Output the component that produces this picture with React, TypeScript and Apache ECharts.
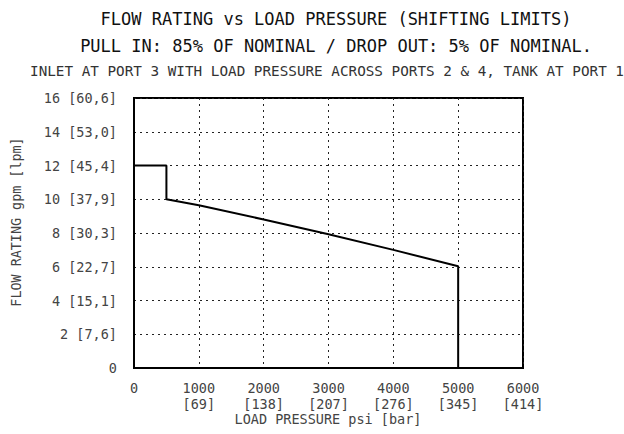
import React, { useEffect, useRef } from "react";
import * as echarts from "echarts";

const titleLines = [
  "FLOW RATING vs LOAD PRESSURE (SHIFTING LIMITS)",
  "PULL IN: 85% OF NOMINAL / DROP OUT: 5% OF NOMINAL.",
  "INLET AT PORT 3 WITH LOAD PRESSURE ACROSS PORTS 2 & 4, TANK AT PORT 1",
];
const xAxisName = "LOAD PRESSURE psi [bar]";
const yAxisName = "FLOW RATING gpm [lpm]";

const xTicks = [0, 1000, 2000, 3000, 4000, 5000, 6000];
const xTickLabels = ["0", "1000\n[69]", "2000\n[138]", "3000\n[207]", "4000\n[276]", "5000\n[345]", "6000\n[414]"];
const yTicks = [0, 2, 4, 6, 8, 10, 12, 14, 16];
const yTickLabels = ["0", "2 [7,6]", "4 [15,1]", "6 [22,7]", "8 [30,3]", "10 [37,9]", "12 [45,4]", "14 [53,0]", "16 [60,6]"];

const pressurePsi = [0, 500, 500, 1000, 2000, 3000, 4000, 5000, 5000];
const flowGpm = [12, 12, 10, 9.65, 8.8, 7.93, 7.0, 6.03, 0];

const FONT = "'DejaVu Sans Mono', 'Liberation Mono', monospace";

export default function App() {
  const ref = useRef<HTMLDivElement>(null);
  useEffect(() => {
    document.body.style.margin = "0";
    const chart = echarts.init(ref.current!, null, { renderer: "svg" });
    const data = pressurePsi.map((x, i) => [x, flowGpm[i]]);
    chart.setOption({
      animation: false,
      backgroundColor: "#fff",
      grid: {
        left: 134,
        right: 101,
        top: 98,
        bottom: 66,
        show: true,
        borderColor: "#000",
        borderWidth: 2,
        backgroundColor: "transparent",
      },
      xAxis: {
        type: "value",
        min: 0,
        max: 6000,
        interval: 1000,
        axisLine: { show: true, lineStyle: { color: "#000", width: 2 } },
        axisTick: { show: false },
        splitLine: { show: true, lineStyle: { color: "#222", width: 1, type: [2, 4] } },
        axisLabel: {
          margin: 12,
          color: "#444",
          fontFamily: FONT,
          fontSize: 13.5,
          lineHeight: 16,
          formatter: (v: number) => xTickLabels[xTicks.indexOf(v)] ?? "",
        },
      },
      yAxis: {
        type: "value",
        min: 0,
        max: 16,
        interval: 2,
        axisLine: { show: true, lineStyle: { color: "#000", width: 2 } },
        axisTick: { show: false },
        splitLine: { show: true, lineStyle: { color: "#222", width: 1, type: [2, 4] } },
        axisLabel: {
          margin: 17,
          color: "#444",
          fontFamily: FONT,
          fontSize: 13.5,
          padding: [3, 0, 0, 0],
          formatter: (v: number) => yTickLabels[yTicks.indexOf(v)] ?? "",
        },
      },
      series: [
        {
          type: "line",
          data,
          showSymbol: false,
          symbol: "none",
          lineStyle: { color: "#000", width: 2 },
          z: 5,
        },
      ],
      graphic: [
        {
          type: "text",
          x: 336,
          y: 19,
          style: { text: titleLines[0], font: `17px ${FONT}`, fill: "#111", textAlign: "center", textVerticalAlign: "middle" },
        },
        {
          type: "text",
          x: 336,
          y: 46,
          style: { text: titleLines[1], font: `17px ${FONT}`, fill: "#111", textAlign: "center", textVerticalAlign: "middle" },
        },
        {
          type: "text",
          x: 327,
          y: 71,
          style: { text: titleLines[2], font: `14.3px ${FONT}`, fill: "#333", textAlign: "center", textVerticalAlign: "middle" },
        },
        {
          type: "text",
          x: 328,
          y: 419,
          style: { text: xAxisName, font: `13.5px ${FONT}`, fill: "#444", textAlign: "center", textVerticalAlign: "middle" },
        },
        {
          type: "text",
          x: 16,
          y: 222,
          rotation: Math.PI / 2,
          style: { text: yAxisName, font: `13.4px ${FONT}`, fill: "#444", textAlign: "center", textVerticalAlign: "middle" },
        },
      ],
    });
    return () => chart.dispose();
  }, []);
  return <div ref={ref} style={{ width: 624, height: 434 }} />;
}
